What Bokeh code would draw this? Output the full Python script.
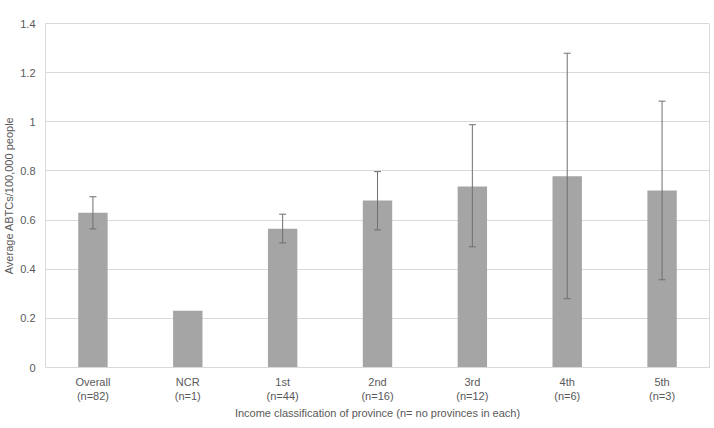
from bokeh.plotting import figure
from bokeh.models import ColumnDataSource, Whisker, FixedTicker
from bokeh.embed import file_html
from bokeh.resources import INLINE

categories = ["Overall\n(n=82)", "NCR\n(n=1)", "1st\n(n=44)", "2nd\n(n=16)",
              "3rd\n(n=12)", "4th\n(n=6)", "5th\n(n=3)"]
means = [0.630, 0.231, 0.565, 0.680, 0.737, 0.778, 0.720]
err_upper = [0.695, None, 0.624, 0.797, 0.988, 1.279, 1.084]
err_lower = [0.564, None, 0.507, 0.560, 0.491, 0.280, 0.357]
y_ticks = [0, 0.2, 0.4, 0.6, 0.8, 1.0, 1.2, 1.4]
y_tick_labels = ["0", "0.2", "0.4", "0.6", "0.8", "1", "1.2", "1.4"]

FONT = "Liberation Sans"
TXT = "#595959"
GRID = "#d9d9d9"

p = figure(x_range=categories, y_range=(0, 1.4), output_backend="svg",
           toolbar_location=None, frame_width=664, frame_height=344,
           min_border_left=28, min_border_top=23, min_border_right=1,
           min_border_bottom=40)

src = ColumnDataSource(dict(x=categories, top=means))
p.vbar(x="x", top="top", width=0.31, source=src, fill_color="#a5a5a5",
       line_color=None)

ex = [c for c, u in zip(categories, err_upper) if u is not None]
eu = [u for u in err_upper if u is not None]
el = [l for l in err_lower if l is not None]
esrc = ColumnDataSource(dict(x=ex, upper=eu, lower=el))
w = Whisker(base="x", upper="upper", lower="lower", source=esrc,
            line_color="#6f6f6f", line_width=1, level="overlay")
w.upper_head.size = 7
w.lower_head.size = 7
w.upper_head.line_color = "#6f6f6f"
w.lower_head.line_color = "#6f6f6f"
p.add_layout(w)

p.outline_line_color = GRID
p.outline_line_width = 1
p.xgrid.grid_line_color = None
p.ygrid.grid_line_color = GRID
p.ygrid.grid_line_width = 1

p.yaxis.ticker = FixedTicker(ticks=y_ticks)
p.yaxis.major_label_overrides = {t: l for t, l in zip(y_ticks, y_tick_labels)}
p.yaxis.axis_line_color = None
p.yaxis.major_tick_line_color = None
p.yaxis.minor_tick_line_color = None
p.yaxis.major_label_standoff = 4
p.yaxis.axis_label = "Average ABTCs/100,000 people"
p.yaxis.axis_label_text_font_style = "normal"
p.yaxis.axis_label_text_font = FONT
p.yaxis.axis_label_text_font_size = "11px"
p.yaxis.axis_label_text_color = TXT
p.yaxis.axis_label_standoff = 2
p.yaxis.major_label_text_font = FONT
p.yaxis.major_label_text_font_size = "11px"
p.yaxis.major_label_text_color = TXT

p.xaxis.axis_line_color = GRID
p.xaxis.major_tick_line_color = None
p.xaxis.minor_tick_line_color = None
p.xaxis.major_label_standoff = 2
p.xaxis.major_label_text_font = FONT
p.xaxis.major_label_text_font_size = "11px"
p.xaxis.major_label_text_color = TXT
p.xaxis.axis_label = "Income classification of province (n= no provinces in each)"
p.xaxis.axis_label_text_font_style = "normal"
p.xaxis.axis_label_text_font = FONT
p.xaxis.axis_label_text_font_size = "11px"
p.xaxis.axis_label_text_color = TXT
p.xaxis.axis_label_standoff = 2

p.x_range.range_padding = 0

open("out.html", "w").write(file_html(p, INLINE))
